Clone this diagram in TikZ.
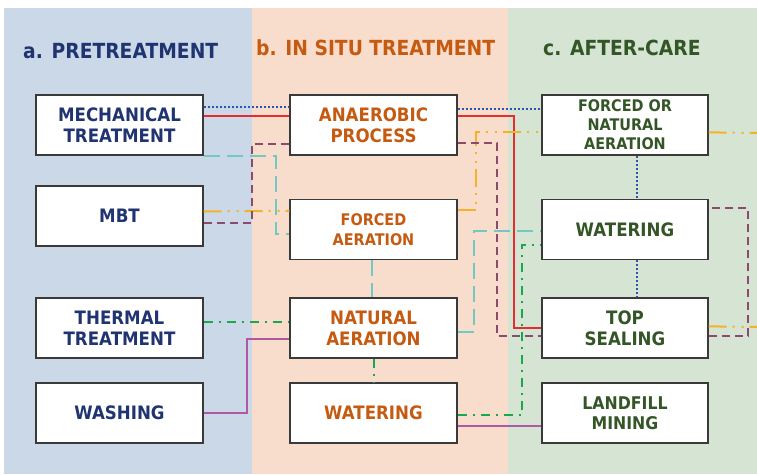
\documentclass[tikz,border=0pt]{standalone}
\usepackage{fontspec}
\newfontfamily\dv{DejaVu Sans}[FakeStretch=0.9]
\usetikzlibrary{calc}
\definecolor{bgblue}{RGB}{203,216,232}
\definecolor{bgorange}{RGB}{248,221,204}
\definecolor{bggreen}{RGB}{213,228,211}
\definecolor{tnavy}{RGB}{31,52,112}
\definecolor{torange}{RGB}{197,90,17}
\definecolor{tgreen}{RGB}{52,86,38}
\definecolor{bordergray}{RGB}{58,58,58}
\definecolor{cdot}{RGB}{43,86,176}
\definecolor{cred}{RGB}{232,44,44}
\definecolor{cyellow}{RGB}{242,178,42}
\definecolor{cpurple}{RGB}{140,74,111}
\definecolor{cteal}{RGB}{114,200,195}
\definecolor{cgreen}{RGB}{25,168,76}
\definecolor{cmagenta}{RGB}{176,87,166}
\tikzset{
  box/.style={draw=bordergray, line width=1.3pt, fill=white, minimum width=167pt,
    minimum height=60pt, inner sep=0pt, align=center},
  fbig/.style={font=\dv\bfseries\fontsize{18.5}{21}\selectfont},
  fmid/.style={font=\dv\bfseries\fontsize{17.5}{20}\selectfont},
  fsmall/.style={font=\dv\bfseries\fontsize{16}{19}\selectfont},
  heading/.style={font=\dv\bfseries\fontsize{20.8}{24}\selectfont, anchor=base west, inner sep=0pt},
  lnblue/.style={cdot, line width=2pt, dash pattern=on 2pt off 2pt},
  lnred/.style={cred, line width=2pt},
  lnyellow/.style={cyellow, line width=2pt, dash pattern=on 18pt off 6pt on 2pt off 7pt on 2pt off 6pt},
  lnpurple/.style={cpurple, line width=2pt, dash pattern=on 8pt off 5pt},
  lnteal/.style={cteal, line width=2pt, dash pattern=on 16pt off 7pt},
  lngreen/.style={cgreen, line width=2pt, dash pattern=on 9pt off 6pt on 2pt off 6pt},
  lnmagenta/.style={cmagenta, line width=2pt},
}
\begin{document}
\begin{tikzpicture}[x=1pt,y=-1pt]
\useasboundingbox (0,0) rectangle (757,474);
\fill[white] (0,0) rectangle (757,474);
\fill[bgblue] (4,8) rectangle (252,474);
\fill[bgorange] (252,8) rectangle (508,474);
\fill[bggreen] (508,8) rectangle (757,474);

\node[heading, text=tnavy] (ha) at (23,58) {a. PRETREATMENT};
\node[heading, text=torange] (hb) at (256,55) {b. IN SITU TREATMENT};
\node[heading, text=tgreen] (hc) at (543,55) {c. AFTER-CARE};

% column a
\node[box, fbig, text=tnavy] (mech) at (119.5,125) {MECHANICAL\\TREATMENT};
\node[box, fbig, text=tnavy] (mbt) at (119.5,216) {MBT};
\node[box, fbig, text=tnavy] (therm) at (119.5,328) {THERMAL\\TREATMENT};
\node[box, fbig, text=tnavy] (wash) at (119.5,413) {WASHING};
% column b
\node[box, fbig, text=torange] (anaer) at (373.5,125) {ANAEROBIC\\PROCESS};
\node[box, fsmall, text=torange, font=\dv\bfseries\fontsize{16}{20}\selectfont] (forb) at (373.5,229.5) {FORCED\\AERATION};
\node[box, fbig, text=torange] (nat) at (373.5,328) {NATURAL\\AERATION};
\node[box, fbig, text=torange] (watb) at (373.5,413) {WATERING};
% column c
\node[box, fsmall, text=tgreen, minimum width=166pt] (fona) at (625,125) {FORCED OR\\NATURAL\\AERATION};
\node[box, fbig, text=tgreen, minimum width=166pt] (watc) at (625,229.5) {WATERING};
\node[box, fbig, text=tgreen, minimum width=166pt] (tops) at (625,328) {TOP\\SEALING};
\node[box, fmid, text=tgreen, minimum width=166pt] (lm) at (625,413) {LANDFILL\\MINING};

\coordinate (edge1) at (757,133);
\coordinate (edge2) at (757,327);

% blue dotted
\draw[lnblue] ($(mech.north east)+(0,13)$) -- ($(anaer.north west)+(0,13)$);
\draw[lnblue] ($(anaer.north east)+(0,15)$) -- ($(fona.north west)+(0,15)$);
\draw[lnblue] ($(fona.south)+(12,0)$) -- ($(watc.north)+(12,0)$);
\draw[lnblue] ($(watc.south)+(12,0)$) -- ($(tops.north)+(12,0)$);
% red
\draw[lnred] ($(mech.north east)+(0,22)$) -- ($(anaer.north west)+(0,22)$);
\draw[lnred] ($(anaer.north east)+(0,22)$) -- ++(56,0) |- (tops.west);
% yellow
\draw[lnyellow] ($(mbt.north east)+(0,26)$) -- ($(forb.north west)+(0,12)$);
\draw[lnyellow] ($(forb.north east)+(0,11)$) -- ++(18,0) |- ($(fona.north west)+(0,38)$);
\draw[lnyellow] ($(fona.north east)+(0,38)$) -- (edge1);
\draw[lnyellow] ($(tops.north east)+(0,29)$) -- (edge2);
% purple dashed
\draw[lnpurple] ($(mbt.north east)+(0,38)$) -- ++(48,0) |- ($(anaer.north west)+(0,50)$);
\draw[lnpurple] ($(anaer.north east)+(0,49)$) -- ++(39,0) |- ($(tops.north west)+(0,39)$);
\draw[lnpurple] ($(tops.north east)+(0,39)$) -- ++(39,0) |- ($(watc.north east)+(0,9)$);
% teal dashed
\draw[lnteal] (mech.south east) -- ++(72,0) |- ($(forb.north west)+(0,35)$);
\draw[lnteal] ($(forb.south)+(-2,0)$) -- ($(nat.north)+(-2,0)$);
\draw[lnteal] ($(nat.north east)+(0,35)$) -- ++(16,0) |- ($(watc.north west)+(0,32)$);
% green dash-dot
\draw[lngreen] ($(therm.north east)+(0,25)$) -- ($(nat.north west)+(0,25)$);
\draw[lngreen] (nat.south) -- (watb.north);
\draw[lngreen] ($(watb.north east)+(0,33)$) -- ++(64,0) |- ($(watc.north west)+(0,46)$);
% magenta
\draw[lnmagenta] (wash.east) -- ++(43,0) |- ($(nat.north west)+(0,42)$);
\draw[lnmagenta] ($(watb.north east)+(0,44)$) -- ($(lm.north west)+(0,44)$);
\end{tikzpicture}
\end{document}
